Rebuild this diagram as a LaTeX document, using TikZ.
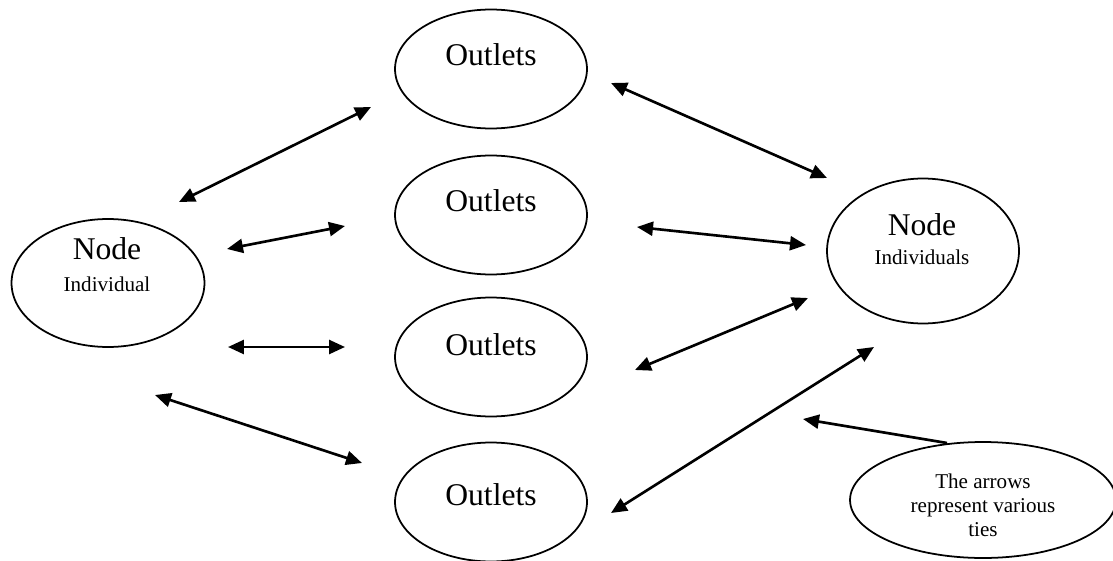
\documentclass[tikz,border=0pt]{standalone}
\usepackage{fontspec}
\setmainfont{Liberation Serif}
\usetikzlibrary{positioning,arrows.meta,shapes.geometric}
\newcommand*{\lbl}[1]{\fontsize{18}{21}\selectfont #1}
\newcommand*{\sml}[1]{\fontsize{12}{13.6}\selectfont #1}

\begin{document}
\begin{tikzpicture}[x=0.02cm,y=-0.02cm,
  oval/.style={ellipse,draw,line width=1pt,inner sep=0pt},
  outlet/.style={oval,minimum width=3.84cm,minimum height=2.38cm},
  tie/.style={line width=1.5pt,
    {Triangle[length=0.32cm,width=0.28cm]}-{Triangle[length=0.32cm,width=0.28cm]}},
  onetie/.style={line width=1.5pt,-{Triangle[length=0.32cm,width=0.28cm]}}]
\useasboundingbox (0,0) rectangle (1113,561);
% Ovals: one individual on each side, outlets in between
\node[oval,minimum width=3.86cm,minimum height=2.56cm] (indl) at (108,283) {};
\node[oval,minimum width=3.84cm,minimum height=2.9cm] (indr) at (923,251) {};
\node[outlet] (out1) at (491,69) {};
\node[outlet] (out2) at (491,215) {};
\node[outlet] (out3) at (491,357) {};
\node[outlet] (out4) at (491,502) {};
\node[oval,minimum width=5.32cm,minimum height=2.32cm] (note) at (983,500) {};
%% Texts, set high in the ovals
\node[anchor=base] (tl) at (107,259) {\lbl{Node}};
\node[anchor=base] (tls) at (107,291) {\sml{Individual}};
\node[anchor=base] (tr) at (922,235) {\lbl{Node}};
\node[anchor=base] (trs) at (922,264) {\sml{Individuals}};
\node[anchor=base] (t1) at (491,65) {\lbl{Outlets}};
\node[anchor=base] (t2) at (491,211) {\lbl{Outlets}};
\node[anchor=base] (t3) at (491,355) {\lbl{Outlets}};
\node[anchor=base] (t4) at (491,505) {\lbl{Outlets}};
\node[align=center,font=\fontsize{12}{13.6}\selectfont] (tn) at (983,505)
  {The arrows\\represent various\\ties};
%% Free ends of the ties
\coordinate (a1) at (179,202);  \coordinate (b1) at (371,107);
\coordinate (a2) at (227,249);  \coordinate (b2) at (345,226);
\coordinate (a3) at (228,347);  \coordinate (b3) at (345,347);
\coordinate (a4) at (155,395);  \coordinate (b4) at (362,463);
\coordinate (c1) at (611,83);   \coordinate (d1) at (827,178);
\coordinate (c2) at (637,227);  \coordinate (d2) at (806,245);
\coordinate (c3) at (635,370);  \coordinate (d3) at (808,298);
\coordinate (c4) at (611,513);  \coordinate (d4) at (874,347);
\coordinate (e) at (947,443);   \coordinate (f) at (803,419);
%% Ties left and right of the outlets
\foreach \p/\q in {a1/b1,a2/b2,a3/b3,a4/b4,c1/d1,c2/d2,c3/d3,c4/d4}
  \draw[tie] (\p) -- (\q);
% Pointer from the note
\draw[onetie] (e) -- (f);
\end{tikzpicture}
\end{document}
